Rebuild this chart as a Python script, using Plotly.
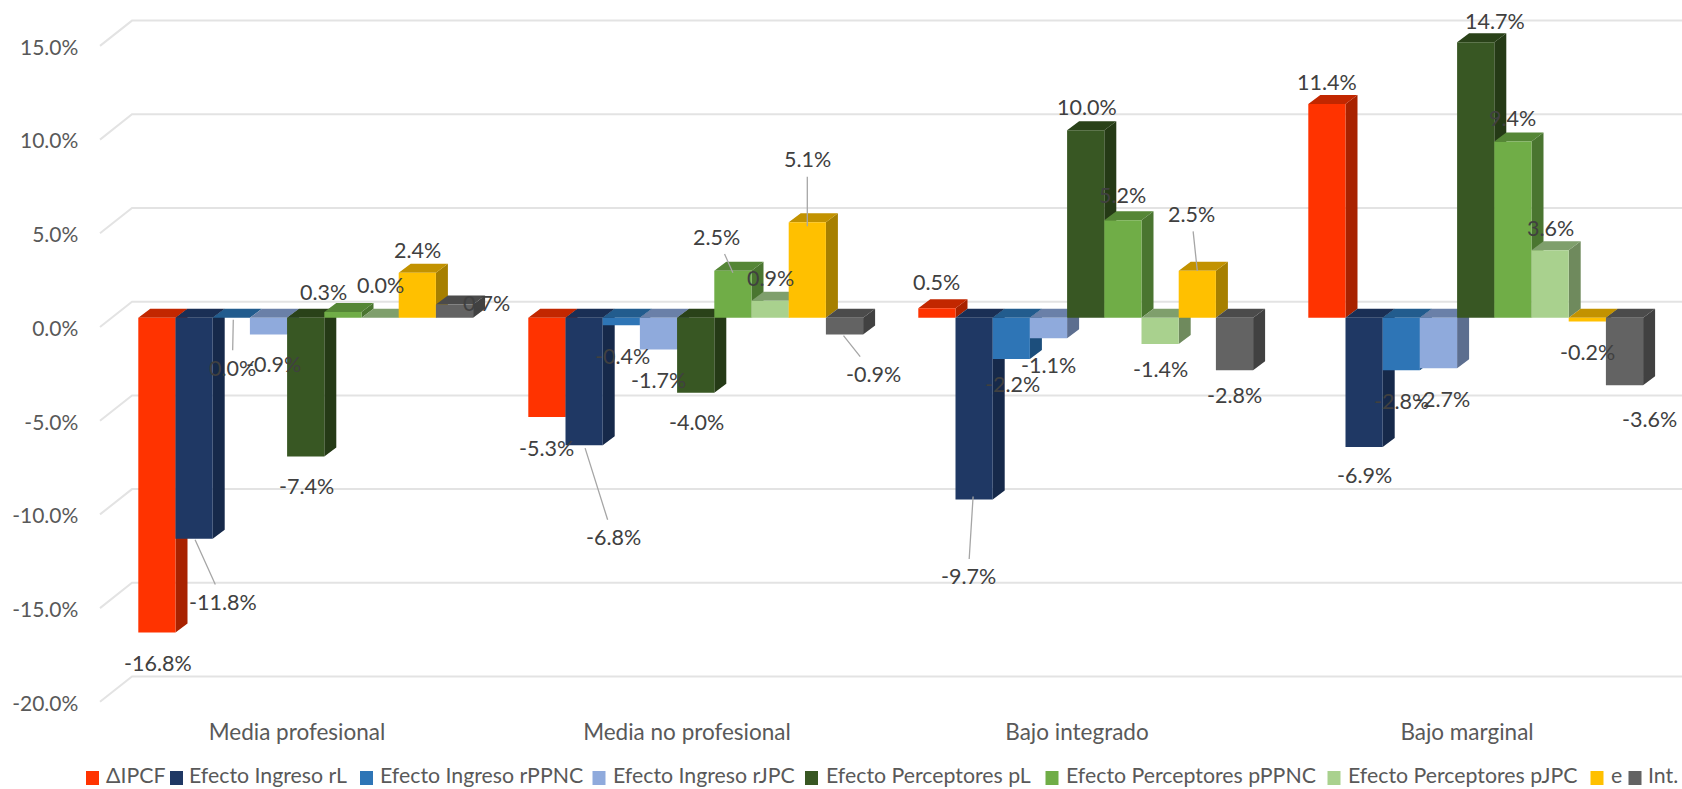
import plotly.graph_objects as go

# ---------- data ----------
categories = ["Media profesional", "Media no profesional", "Bajo integrado", "Bajo marginal"]
series_names = ["ΔIPCF", "Efecto Ingreso rL", "Efecto Ingreso rPPNC", "Efecto Ingreso rJPC",
                "Efecto Perceptores pL", "Efecto Perceptores pPPNC", "Efecto Perceptores pJPC", "e", "Int."]
delta_ipcf = [-16.8, -5.3, 0.5, 11.4]
ingreso_rl = [-11.8, -6.8, -9.7, -6.9]
ingreso_rppnc = [0.0, -0.4, -2.2, -2.8]
ingreso_rjpc = [-0.9, -1.7, -1.1, -2.7]
perceptores_pl = [-7.4, -4.0, 10.0, 14.7]
perceptores_pppnc = [0.3, 2.5, 5.2, 9.4]
perceptores_pjpc = [0.0, 0.9, -1.4, 3.6]
e_values = [2.4, 5.1, 2.5, -0.2]
int_values = [0.7, -0.9, -2.8, -3.6]
series_values = [delta_ipcf, ingreso_rl, ingreso_rppnc, ingreso_rjpc, perceptores_pl,
                 perceptores_pppnc, perceptores_pjpc, e_values, int_values]
y_ticks = [-20, -15, -10, -5, 0, 5, 10, 15]

# ---------- style ----------
front_colors = ["#FF3300", "#1F3864", "#2E75B6", "#8FAADC", "#385723", "#70AD47", "#A9D18E", "#FFC000", "#636363"]
top_colors = ["#C22700", "#1A2F55", "#225C8E", "#6A80A8", "#2A4219", "#558636", "#7F9F6C", "#C29200", "#4B4B4B"]
side_colors = ["#A82200", "#16294A", "#1C4E7C", "#5C6E8F", "#253A16", "#4A7530", "#6F8A5D", "#A67F00", "#414141"]
W, H = 1682, 789
FONT = "Lato"
PX_CAT = 390.0          # px per category
PX_CENTER0 = 305.7      # px of the first group's centre
PX_PCT = 18.74          # px per percentage point
ZERO_TICK, ZERO_WALL, ZERO_BAR, ZERO_BACK = 328.5, 327.0, 317.7, 301.7
BAR_W = 37.2 / PX_CAT
DEPTH_X = 12.0 / PX_CAT
DEPTH_Y = 9.0 / PX_PCT
WALL_LEFT = (100 - PX_CENTER0) / PX_CAT
WALL_BACK = (132 - PX_CENTER0) / PX_CAT
X_MIN = -PX_CENTER0 / PX_CAT
X_MAX = (W - PX_CENTER0) / PX_CAT
LABEL_SHIFT = -8.7 / PX_CAT

# label offsets in px from the bar end: (dx, dy) to the text, optional leader tip (dx, dy)
label_offsets = [
    [(1, 30), (0, 31), (0, -26), (0, -22)],
    [(29, 63, 1, 1), (29, 92, 1, 3), (-6, 77, -1, -3), (0, 28)],
    [(1, 50, 2, 2), (1, 31), (1, 25), (0, 31)],
    [(5, 29), (0, 30), (0, 27), (4, 31)],
    [(1, 30), (1, 29), (1, -23), (19, -21)],
    [(-19, -20), (-16, -34, 0, 2), (0, -25), (0, -24)],
    [(0, -33), (0, -23), (0, 25), (0, -22)],
    [(0, -23), (0, -63, 0, 4), (-6, -57, 0, 0), (0, 31)],
    [(32, -2), (29, 39, -1, 1), (0, 25), (25, 34)],
]
# hand-set legend row, px: swatch left, text left
legend_swatch_left = [86, 170, 360, 592.5, 805, 1045.5, 1327.5, 1590.5, 1628.5]
legend_text_left = [104, 187, 377.5, 611, 824, 1063.5, 1346, 1608.5, 1646]


def bar_x(c, j):
    return c + (j - 4) * BAR_W


fig = go.Figure()

# back wall gridlines with the diagonal on the left wall
gx, gy = [], []
front_off = (ZERO_TICK - ZERO_WALL) / PX_PCT
back_lift = (ZERO_TICK - ZERO_BACK) / PX_PCT
for v in y_ticks:
    gx += [WALL_LEFT, WALL_BACK, X_MAX, None]
    gy += [v + front_off, v + back_lift, v + back_lift, None]
fig.add_trace(go.Scatter(x=gx, y=gy, mode="lines", line=dict(color="#E3E3E3", width=2),
                         showlegend=False, hoverinfo="skip", yaxis="y"))

# side and top faces, derived from the values
for j, vals in enumerate(series_values):
    sx, sy, tx, ty = [], [], [], []
    for c, v in enumerate(vals):
        x0 = bar_x(c, j) - BAR_W / 2
        x1 = x0 + BAR_W
        hi, lo = max(v, 0), min(v, 0)
        sx += [x1, x1 + DEPTH_X, x1 + DEPTH_X, x1, x1, None]
        sy += [hi, hi + DEPTH_Y, lo + DEPTH_Y, lo, hi, None]
        tx += [x0, x1, x1 + DEPTH_X, x0 + DEPTH_X, x0, None]
        ty += [hi, hi, hi + DEPTH_Y, hi + DEPTH_Y, hi, None]
    fig.add_trace(go.Scatter(x=sx, y=sy, mode="lines", fill="toself", fillcolor=side_colors[j],
                             line=dict(width=0, color=side_colors[j]), showlegend=False,
                             hoverinfo="skip", yaxis="y2"))
    fig.add_trace(go.Scatter(x=tx, y=ty, mode="lines", fill="toself", fillcolor=top_colors[j],
                             line=dict(width=0, color=top_colors[j]), showlegend=False,
                             hoverinfo="skip", yaxis="y2"))

# front faces
for j, vals in enumerate(series_values):
    fig.add_trace(go.Bar(x=[bar_x(c, j) for c in range(len(categories))], y=vals, width=BAR_W,
                         name=series_names[j], marker=dict(color=front_colors[j], line=dict(width=0)),
                         showlegend=False, yaxis="y3"))

# data labels
annotations = []
for j, vals in enumerate(series_values):
    for c, v in enumerate(vals):
        off = label_offsets[j][c]
        a = dict(x=bar_x(c, j), y=v, xref="x", yref="y3", text=f"{v:.1f}%",
                 font=dict(family=FONT, size=21.5, color="#404040"),
                 xanchor="center", yanchor="middle")
        if len(off) == 4:
            dx, dy, tx_, ty_ = off
            a.update(showarrow=True, arrowhead=0, arrowwidth=1.3, arrowcolor="#A6A6A6",
                     xshift=tx_, yshift=-ty_, ax=dx - tx_, ay=dy - ty_, startstandoff=3)
        else:
            a.update(showarrow=False, xshift=off[0], yshift=-off[1])
        annotations.append(a)

# legend row
shapes = []
for j, name in enumerate(series_names):
    sl = legend_swatch_left[j]
    shapes.append(dict(type="rect", xref="paper", yref="paper", layer="above",
                       x0=sl / W, x1=(sl + 13) / W, y0=1 - 785 / H, y1=1 - 771 / H,
                       fillcolor=front_colors[j], line=dict(width=0)))
    annotations.append(dict(xref="paper", yref="paper", x=legend_text_left[j] / W, y=1 - 775 / H,
                            text=name, showarrow=False, xanchor="left", yanchor="middle",
                            font=dict(family=FONT, size=21.3, color="#595959")))

bar_range = [(ZERO_BAR - H) / PX_PCT, ZERO_BAR / PX_PCT]
tick_range = [(ZERO_TICK - H) / PX_PCT, ZERO_TICK / PX_PCT]

fig.update_layout(
    width=W, height=H, margin=dict(l=0, r=0, t=0, b=0, autoexpand=False),
    paper_bgcolor="white", plot_bgcolor="rgba(0,0,0,0)", barmode="overlay",
    font=dict(family=FONT, size=21, color="#595959"),
    xaxis=dict(range=[X_MIN, X_MAX], domain=[0, 1], anchor="free", position=1 - 716 / H, side="bottom",
               tickmode="array", tickvals=[c + LABEL_SHIFT for c in range(len(categories))],
               ticktext=categories, ticks="", showgrid=False, zeroline=False, showline=False,
               tickangle=0, tickfont=dict(family=FONT, size=22.5, color="#595959")),
    yaxis=dict(range=tick_range, domain=[0, 1], anchor="free", position=78.3 / W, side="left",
               tickmode="array", tickvals=y_ticks,
               ticktext=[f"{v:.1f}%" for v in y_ticks], ticks="", showgrid=False,
               zeroline=False, showline=False, tickfont=dict(family=FONT, size=21, color="#595959")),
    yaxis2=dict(range=bar_range, overlaying="y", visible=False, anchor="x"),
    yaxis3=dict(range=bar_range, overlaying="y", visible=False, anchor="x"),
    annotations=annotations, shapes=shapes, showlegend=False,
)

fig.write_html("out.html", post_script="document.body.style.margin='0';",
               config=dict(displayModeBar=False))
